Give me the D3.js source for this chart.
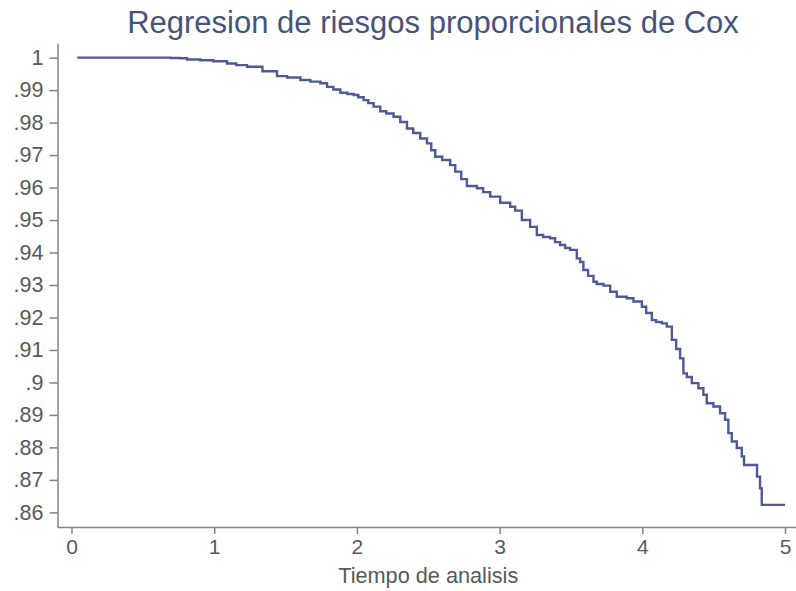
<!DOCTYPE html>
<html>
<head>
<meta charset="utf-8">
<script src="https://cdn.jsdelivr.net/npm/d3@7/dist/d3.min.js"></script>
<style>
  html, body { margin: 0; padding: 0; background: #ffffff; }
  svg { display: block; }
</style>
</head>
<body>
<div id="chart"></div>
<script>
// ---- data ----
const titleText = "Regresion de riesgos proporcionales de Cox";
const xAxisTitle = "Tiempo de analisis";
const xTickValues = [0, 1, 2, 3, 4, 5];
const xTickLabels = ["0", "1", "2", "3", "4", "5"];
const yTickValues = [1, 0.99, 0.98, 0.97, 0.96, 0.95, 0.94, 0.93, 0.92, 0.91, 0.90, 0.89, 0.88, 0.87, 0.86];
const yTickLabels = ["1", ".99", ".98", ".97", ".96", ".95", ".94", ".93", ".92", ".91", ".9", ".89", ".88", ".87", ".86"];

// survival step function: time of change and survival after that time
const times = [0.040, 0.693, 0.763, 0.810, 0.903, 0.994, 1.090, 1.155, 1.230, 1.338,
  1.440, 1.511, 1.604, 1.674, 1.744, 1.791, 1.835, 1.884, 1.933, 1.977,
  2.010, 2.047, 2.080, 2.117, 2.164, 2.206, 2.257, 2.304, 2.351, 2.395,
  2.444, 2.491, 2.521, 2.549, 2.598, 2.654, 2.689, 2.731, 2.771, 2.841,
  2.885, 2.934, 3.004, 3.074, 3.109, 3.156, 3.214, 3.261, 3.305, 3.354,
  3.389, 3.424, 3.459, 3.494, 3.541, 3.564, 3.587, 3.620, 3.658, 3.681,
  3.728, 3.775, 3.821, 3.891, 3.938, 3.997, 4.027, 4.067, 4.097, 4.137,
  4.172, 4.207, 4.237, 4.265, 4.288, 4.312, 4.347, 4.393, 4.428, 4.452,
  4.498, 4.545, 4.580, 4.603, 4.627, 4.662, 4.697, 4.713, 4.804, 4.825,
  4.837, 5.000];
const survival = [1.0000, 0.9999, 0.9998, 0.9994, 0.9992, 0.9989, 0.9982, 0.9977, 0.9972, 0.9958,
  0.9943, 0.9939, 0.9931, 0.9926, 0.9921, 0.9910, 0.9902, 0.9892, 0.9888, 0.9885,
  0.9878, 0.9869, 0.9860, 0.9849, 0.9835, 0.9828, 0.9818, 0.9802, 0.9782, 0.9768,
  0.9751, 0.9736, 0.9715, 0.9695, 0.9685, 0.9669, 0.9649, 0.9626, 0.9605, 0.9598,
  0.9586, 0.9572, 0.9553, 0.9541, 0.9529, 0.9500, 0.9479, 0.9454, 0.9448, 0.9444,
  0.9432, 0.9423, 0.9414, 0.9408, 0.9382, 0.9371, 0.9346, 0.9328, 0.9310, 0.9303,
  0.9298, 0.9279, 0.9264, 0.9259, 0.9249, 0.9233, 0.9214, 0.9192, 0.9186, 0.9182,
  0.9172, 0.9131, 0.9103, 0.9074, 0.9028, 0.9017, 0.8998, 0.8982, 0.8962, 0.8936,
  0.8926, 0.8905, 0.8885, 0.8844, 0.8818, 0.8798, 0.8772, 0.8746, 0.8710, 0.8674,
  0.8623, 0.8623];

// ---- layout ----
const W = 796, H = 591;
const font = "'Liberation Sans', Arial, Helvetica, sans-serif";
const axisColor = "#7b8686";
const labelColor = "#525c5c";
const lineColor = "#4d5a95";
const titleColor = "#47537a";

const svg = d3.select("#chart").append("svg")
  .attr("width", W).attr("height", H)
  .style("background", "#ffffff");

// scales: axis lines span the plot region, ticks at data values
const x = d3.scaleLinear().domain([-0.098, 5.077]).range([57.5, 796]);
const y = d3.scaleLinear().domain([0.8555, 1.0045]).range([527, 43]);

// x axis
const xAxis = d3.axisBottom(x)
  .tickValues(xTickValues)
  .tickFormat((d, i) => xTickLabels[i])
  .tickSizeInner(7).tickSizeOuter(0).tickPadding(5);
const gx = svg.append("g").attr("transform", "translate(0,527)").call(xAxis);
gx.select(".domain").attr("stroke", axisColor).attr("stroke-width", 1.5);
gx.selectAll(".tick line").attr("stroke", axisColor).attr("stroke-width", 1.5);
gx.selectAll(".tick text")
  .attr("fill", labelColor)
  .style("font-family", font).style("font-size", "21px");

// y axis
const yAxis = d3.axisLeft(y)
  .tickValues(yTickValues)
  .tickFormat((d, i) => yTickLabels[i])
  .tickSizeInner(8).tickSizeOuter(0).tickPadding(6);
const gy = svg.append("g").attr("transform", "translate(57.5,0)").call(yAxis);
gy.select(".domain").attr("stroke", axisColor).attr("stroke-width", 1.5);
gy.selectAll(".tick line").attr("stroke", axisColor).attr("stroke-width", 1.5);
gy.selectAll(".tick text")
  .attr("fill", labelColor)
  .style("font-family", font).style("font-size", "21.5px");

// survival curve
const pts = times.map((t, i) => [t, survival[i]]);
const line = d3.line()
  .x(d => x(d[0]))
  .y(d => y(d[1]))
  .curve(d3.curveStepAfter);
svg.append("path")
  .datum(pts)
  .attr("d", line)
  .attr("fill", "none")
  .attr("stroke", lineColor)
  .attr("stroke-width", 2.4)
  .attr("stroke-linejoin", "miter");

// titles
svg.append("text")
  .attr("x", 433).attr("y", 33)
  .attr("text-anchor", "middle")
  .attr("fill", titleColor)
  .style("font-family", font).style("font-size", "31px")
  .text(titleText);

svg.append("text")
  .attr("x", x(2.5)).attr("y", 583)
  .attr("text-anchor", "middle")
  .attr("fill", labelColor)
  .style("font-family", font).style("font-size", "21.7px")
  .text(xAxisTitle);
</script>
</body>
</html>
